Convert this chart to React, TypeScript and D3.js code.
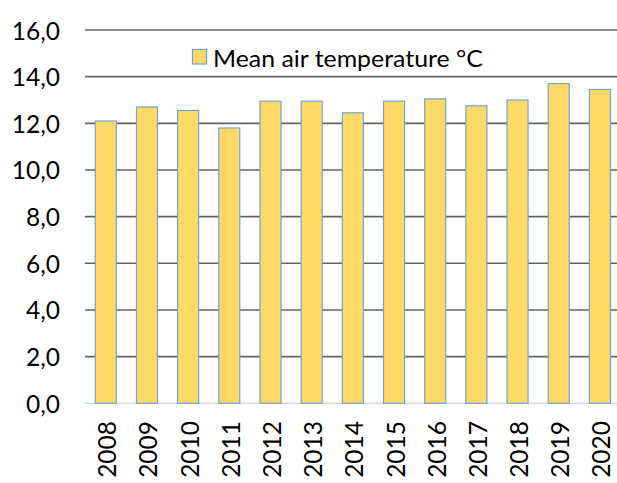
import React from "react";
import * as d3 from "d3";

const years = ["2008","2009","2010","2011","2012","2013","2014","2015","2016","2017","2018","2019","2020"];
const meanTemp = [12.1, 12.7, 12.55, 11.8, 12.95, 12.95, 12.45, 12.95, 13.05, 12.75, 13.0, 13.7, 13.45];
const yTicks = [0, 2, 4, 6, 8, 10, 12, 14, 16];
const legendLabel = "Mean air temperature °C";

const W = 617, H = 483;
const FONT = "Lato, 'Open Sans', sans-serif";

export default function App() {
  const x = d3.scaleBand<string>().domain(years).range([85.2, 620.5]).paddingInner(0.49).paddingOuter(0.245);
  const y = d3.scaleLinear().domain([0, 16]).range([403.3, 30]);
  const fmt = (v: number) => v.toFixed(1).replace(".", ",");

  return (
    <svg width={W} height={H} style={{ position: "absolute", left: 0, top: 0, background: "#fff" }}>
      {yTicks.filter(t => t > 0).map(t => (
        <line key={"g" + t} x1={85} x2={W} y1={y(t)} y2={y(t)} stroke="#636363" strokeWidth={1.6} />
      ))}
      <line x1={85} x2={W} y1={y(0)} y2={y(0)} stroke="#d9d9d9" strokeWidth={1.5} />
      {years.map((yr, i) => (
        <rect key={yr} x={x(yr)} y={y(meanTemp[i])} width={x.bandwidth()} height={y(0) - y(meanTemp[i])}
          fill="#FFD966" stroke="#70A4D8" strokeWidth={1.2} />
      ))}
      {yTicks.map(t => (
        <text key={"t" + t} x={60} y={y(t)} textAnchor="end" dominantBaseline="central"
          fontFamily={FONT} fontSize={24.5} fill="#000">{fmt(t)}</text>
      ))}
      {years.map(yr => (
        <text key={"x" + yr} transform={`translate(${(x(yr) as number) + x.bandwidth() / 2 + 1},421) rotate(-90)`}
          textAnchor="end" dominantBaseline="central" fontFamily={FONT} fontSize={24.5} fill="#000">{yr}</text>
      ))}
      <rect x={192.5} y={49.5} width={14} height={14.5} fill="#FFD966" stroke="#70A4D8" strokeWidth={1.2} />
      <text x={213} y={57} dominantBaseline="central" fontFamily={FONT} fontSize={24} textLength={270}
        lengthAdjust="spacingAndGlyphs" fill="#000">{legendLabel}</text>
    </svg>
  );
}
